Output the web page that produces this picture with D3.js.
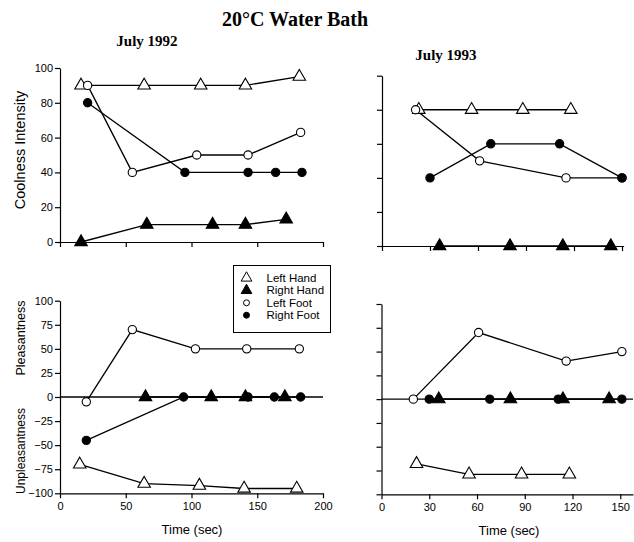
<!DOCTYPE html>
<html>
<head>
<meta charset="utf-8">
<script src="https://cdn.jsdelivr.net/npm/d3@7"></script>
<style>
  body { margin: 0; background: #fff; }
  svg text { font-family: "Liberation Sans", Arial, sans-serif; fill: #000; }
  .serif { font-family: "Liberation Serif", "Times New Roman", serif; font-weight: bold; }
  .axis path, .axis line { stroke: #000; stroke-width: 1.2; }
  .axis text { font-size: 11px; }
</style>
</head>
<body>
<div id="chart"></div>
<script>
// [time (sec), rating]

// Coolness intensity, July 1992
var cool92LeftHand  = [[16, 90], [64, 90], [107, 90], [141, 90], [182, 95]];
var cool92RightHand = [[16, 0], [66, 10], [116, 10], [141, 10], [172, 13]];
var cool92LeftFoot  = [[21, 90], [55, 40], [104, 50], [143, 50], [183, 63]];
var cool92RightFoot = [[21, 80], [95, 40], [143, 40], [164, 40], [184, 40]];

// Pleasantness, July 1992
var pleas92LeftHand  = [[15, -70], [64, -90], [106, -92], [140, -95], [180, -95]];
var pleas92RightHand = [[65, 0], [115, 0], [141, 0], [171, 0]];
var pleas92LeftFoot  = [[20, -5], [55, 70], [103, 50], [142, 50], [182, 50]];
var pleas92RightFoot = [[20, -45], [94, 0], [143, 0], [163, 0], [183, 0]];

// Coolness intensity, July 1993
var cool93LeftHand  = [[23, 80], [56, 80], [88, 80], [118, 80]];
var cool93RightHand = [[36, 0], [80, 0], [113, 0], [143, 0]];
var cool93LeftFoot  = [[21, 80], [61, 50], [115, 40], [150, 40]];
var cool93RightFoot = [[30, 40], [68, 60], [111, 60], [150, 40]];

// Pleasantness, July 1993
var pleas93LeftHand  = [[22, -68], [55, -79], [88, -79], [118, -79]];
var pleas93RightHand = [[36, 0], [81, 0], [114, 0], [143, 0]];
var pleas93LeftFoot  = [[20, 0], [61, 70], [116, 40], [151, 50]];
var pleas93RightFoot = [[30, 0], [68, 0], [111, 0], [151, 0]];

var ticks92 = [0, 50, 100, 150, 200];
var ticks93 = [0, 30, 60, 90, 120, 150];
var coolTicks = [0, 20, 40, 60, 80, 100];
var pleasTicks = [-100, -75, -50, -25, 0, 25, 50, 75, 100];

var legendNames = ["Left Hand", "Right Hand", "Left Foot", "Right Foot"];

// marker for each series: shape + fill
var markers = [
    {type: d3.symbolTriangle, fill: "#fff"},
    {type: d3.symbolTriangle, fill: "#000"},
    {type: d3.symbolCircle, fill: "#fff"},
    {type: d3.symbolCircle, fill: "#000"}
];

var svg = d3.select("#chart")
    .append("svg")
    .attr("width", 634)
    .attr("height", 542);

function drawPanel(p) {
    var g = svg.append("g");

    // x axis
    var xAxis = d3.axisBottom(p.x).tickValues(p.xTicks).tickSize(5).tickSizeOuter(0).tickPadding(4);
    if (!p.xLabels) xAxis.tickFormat("");
    g.append("g")
        .attr("class", "axis")
        .attr("transform", "translate(0," + p.y.range()[0] + ")")
        .call(xAxis);

    // y axis
    var yAxis = d3.axisLeft(p.y).tickValues(p.yTicks).tickSize(5).tickSizeOuter(0).tickPadding(2);
    if (!p.yLabels) yAxis.tickFormat("");
    g.append("g")
        .attr("class", "axis")
        .attr("transform", "translate(" + p.x.range()[0] + ",0)")
        .call(yAxis);

    // zero line for the pleasantness panels
    if (p.zeroLine) {
        g.append("line")
            .attr("x1", p.x.range()[0])
            .attr("x2", p.x.range()[1])
            .attr("y1", p.y(0))
            .attr("y2", p.y(0))
            .attr("stroke", "#000")
            .attr("stroke-width", 1.3);
    }

    var line = d3.line()
        .x(function(d) { return p.x(d[0]); })
        .y(function(d) { return p.y(d[1]); });

    p.series.forEach(function(s) {
        g.append("path")
            .datum(s)
            .attr("d", line)
            .attr("fill", "none")
            .attr("stroke", "#000")
            .attr("stroke-width", 1.3);
    });

    p.series.forEach(function(s, i) {
        var m = markers[i];
        g.selectAll(null)
            .data(s)
            .enter()
            .append("path")
            .attr("d", d3.symbol().type(m.type).size(m.type === d3.symbolTriangle ? 68 : 54))
            .attr("transform", function(d) { return "translate(" + p.x(d[0]) + "," + p.y(d[1]) + ")"; })
            .attr("fill", m.fill)
            .attr("stroke", "#000")
            .attr("stroke-width", 1.1);
    });
}

// top left: coolness 1992
drawPanel({
    x: d3.scaleLinear().domain([0, 200]).range([60, 323]),
    y: d3.scaleLinear().domain([0, 100]).range([242, 68]),
    xTicks: ticks92, yTicks: coolTicks,
    xLabels: false, yLabels: true,
    series: [cool92LeftHand, cool92RightHand, cool92LeftFoot, cool92RightFoot]
});

// bottom left: pleasantness 1992
drawPanel({
    x: d3.scaleLinear().domain([0, 200]).range([60, 323]),
    y: d3.scaleLinear().domain([-100, 100]).range([493.3, 300.7]),
    xTicks: ticks92, yTicks: pleasTicks,
    xLabels: true, yLabels: true, zeroLine: true,
    series: [pleas92LeftHand, pleas92RightHand, pleas92LeftFoot, pleas92RightFoot]
});

// top right: coolness 1993
drawPanel({
    x: d3.scaleLinear().domain([0, 151]).range([382, 623.6]),
    y: d3.scaleLinear().domain([0, 100]).range([246, 75.7]),
    xTicks: ticks93, yTicks: coolTicks,
    xLabels: false, yLabels: false,
    series: [cool93LeftHand, cool93RightHand, cool93LeftFoot, cool93RightFoot]
});

// bottom right: pleasantness 1993
drawPanel({
    x: d3.scaleLinear().domain([0, 158]).range([381.5, 633]),
    y: d3.scaleLinear().domain([-100, 100]).range([494.3, 304]),
    xTicks: ticks93, yTicks: pleasTicks,
    xLabels: true, yLabels: false, zeroLine: true,
    series: [pleas93LeftHand, pleas93RightHand, pleas93LeftFoot, pleas93RightFoot]
});

// titles
svg.append("text").attr("class", "serif")
    .attr("x", 295).attr("y", 26)
    .attr("text-anchor", "middle")
    .style("font-size", "20px")
    .text("20°C Water Bath");

svg.append("text").attr("class", "serif")
    .attr("x", 147).attr("y", 46)
    .attr("text-anchor", "middle")
    .style("font-size", "15px")
    .text("July 1992");

svg.append("text").attr("class", "serif")
    .attr("x", 446).attr("y", 60)
    .attr("text-anchor", "middle")
    .style("font-size", "15px")
    .text("July 1993");

// axis titles
function yTitle(txt, cx, cy, size) {
    svg.append("text")
        .attr("transform", "translate(" + cx + "," + cy + ") rotate(-90)")
        .attr("text-anchor", "middle")
        .style("font-size", size + "px")
        .text(txt);
}
yTitle("Coolness Intensity", 25, 150, 14.5);
yTitle("Pleasantness", 25, 338, 12.5);
yTitle("Unpleasantness", 25, 451, 12);

svg.append("text")
    .attr("x", 192).attr("y", 534)
    .attr("text-anchor", "middle")
    .style("font-size", "13px")
    .text("Time (sec)");

svg.append("text")
    .attr("x", 509).attr("y", 535)
    .attr("text-anchor", "middle")
    .style("font-size", "13px")
    .text("Time (sec)");

// legend
var legend = svg.append("g");
legend.append("rect")
    .attr("x", 233.5).attr("y", 265.5)
    .attr("width", 97).attr("height", 67)
    .attr("fill", "#fff")
    .attr("stroke", "#000")
    .attr("stroke-width", 1);

legendNames.forEach(function(name, i) {
    var yy = 278 + i * 12.4;
    var m = markers[i];
    legend.append("path")
        .attr("d", d3.symbol().type(m.type).size(m.type === d3.symbolTriangle ? 50 : 28))
        .attr("transform", "translate(246.5," + yy + ")")
        .attr("fill", m.fill)
        .attr("stroke", "#000")
        .attr("stroke-width", 1);
    legend.append("text")
        .attr("x", 266.5).attr("y", yy + 4)
        .style("font-size", "11.5px")
        .text(name);
});
</script>
</body>
</html>
